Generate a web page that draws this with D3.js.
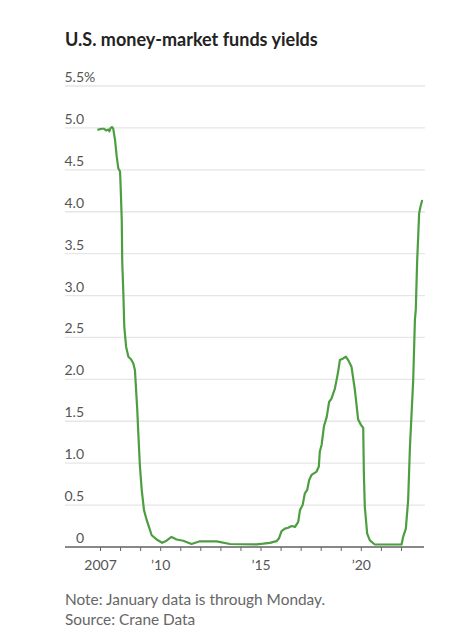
<!DOCTYPE html>
<html>
<head>
<meta charset="utf-8">
<script src="https://cdn.jsdelivr.net/npm/d3@7"></script>
<style>
  html, body { margin: 0; padding: 0; background: #fff; }
  svg { display: block; }
  text { font-family: Lato, "Open Sans", sans-serif; }
</style>
</head>
<body>
<div id="chart"></div>
<script>
// ---- Data ----
const title = "U.S. money-market funds yields";
const noteLines = ["Note: January data is through Monday.", "Source: Crane Data"];

const dates = [
  "2006-12-01","2007-02-01","2007-03-15","2007-04-20","2007-06-01","2007-06-20","2007-07-15","2007-08-10","2007-08-30","2007-10-01",
  "2007-11-01","2007-11-30","2008-01-01","2008-01-12","2008-02-01","2008-02-10","2008-03-01","2008-03-18","2008-04-20","2008-06-01",
  "2008-07-18","2008-08-30","2008-09-28","2008-10-16","2008-11-10","2008-11-28","2008-12-28","2009-01-30","2009-03-12","2009-05-01",
  "2009-07-30","2009-10-28","2010-02-06","2010-04-26","2010-07-26","2010-10-26","2011-02-24","2011-07-26","2011-12-24","2012-10-24",
  "2013-06-24","2014-10-24","2015-02-20","2015-06-20","2015-10-20","2015-12-01","2016-01-20","2016-03-20","2016-05-20","2016-07-20",
  "2016-09-20","2016-11-18","2016-12-20","2017-02-06","2017-03-18","2017-04-30","2017-06-05","2017-07-18","2017-10-18","2017-11-28",
  "2017-12-16","2018-01-18","2018-03-01","2018-04-20","2018-06-03","2018-07-16","2018-09-16","2018-10-28","2018-11-14","2018-12-16",
  "2019-02-14","2019-04-04","2019-05-16","2019-07-16","2019-09-16","2019-11-14","2020-01-01","2020-02-14","2020-02-26","2020-03-14",
  "2020-04-26","2020-06-14","2020-09-12","2022-01-12","2022-02-10","2022-03-31","2022-05-12","2022-06-14","2022-07-14","2022-08-12",
  "2022-09-12","2022-09-28","2022-10-22","2022-11-28","2022-12-22","2023-01-20"
];
const yields = [
  4.98,4.99,4.99,4.97,4.98,4.96,5.00,5.01,4.99,4.86,
  4.66,4.52,4.48,4.30,3.90,3.40,3.03,2.63,2.39,2.27,
  2.24,2.19,2.11,1.91,1.63,1.36,0.96,0.68,0.44,0.32,
  0.14,0.09,0.05,0.075,0.12,0.09,0.075,0.036,0.068,0.068,
  0.036,0.032,0.04,0.05,0.07,0.10,0.19,0.22,0.23,0.25,
  0.24,0.30,0.44,0.50,0.64,0.68,0.80,0.86,0.90,0.96,
  1.14,1.22,1.44,1.55,1.73,1.77,1.89,2.03,2.09,2.23,
  2.25,2.27,2.23,2.15,1.87,1.52,1.46,1.42,0.88,0.48,
  0.16,0.08,0.03,0.03,0.12,0.22,0.56,1.20,1.60,1.99,
  2.71,2.83,3.39,3.98,4.06,4.13
];

const yTicks = [0, 0.5, 1.0, 1.5, 2.0, 2.5, 3.0, 3.5, 4.0, 4.5, 5.0, 5.5];
const yTickLabels = ["0","0.5","1.0","1.5","2.0","2.5","3.0","3.5","4.0","4.5","5.0","5.5"];
const xTickYears = [2007,2008,2009,2010,2011,2012,2013,2014,2015,2016,2017,2018,2019,2020,2021,2022];
const xLabelYears = [2007, 2010, 2015, 2020];
const xLabels = ["2007", "\u201910", "\u201915", "\u201920"];

// ---- Layout ----
const W = 462, H = 643;
const plotLeft = 65, plotRight = 425;
const parse = d3.timeParse("%Y-%m-%d");
const data = dates.map((d, i) => ({ date: parse(d), value: yields[i] }));

const svg = d3.select("#chart").append("svg").attr("width", W).attr("height", H);

const x = d3.scaleTime()
  .domain([new Date(2007, 0, 1), new Date(2023, 0, 1)])
  .range([100, 421]);
const y = d3.scaleLinear().domain([0, 5.5]).range([547, 86]);

// title
svg.append("text")
  .attr("x", plotLeft).attr("y", 46)
  .attr("font-size", 18).attr("font-weight", 700).attr("fill", "#222")
  .text(title);

// gridlines
svg.append("g").selectAll("line")
  .data(yTicks.filter(d => d > 0))
  .join("line")
  .attr("x1", plotLeft).attr("x2", plotRight)
  .attr("y1", d => y(d)).attr("y2", d => y(d))
  .attr("stroke", "#e6e6e6").attr("stroke-width", 1.3);

// y labels
const yl = svg.append("g");
yl.selectAll("text").data(yTicks).join("text")
  .attr("x", 84).attr("y", d => y(d) - 4)
  .attr("text-anchor", "end")
  .attr("font-size", 14).attr("fill", "#555")
  .text((d, i) => yTickLabels[i]);
yl.append("text")
  .attr("x", 84).attr("y", y(5.5) - 4)
  .attr("font-size", 14).attr("fill", "#555")
  .text("%");

// x axis baseline
svg.append("line")
  .attr("x1", plotLeft).attr("x2", plotRight - 1)
  .attr("y1", y(0)).attr("y2", y(0))
  .attr("stroke", "#888").attr("stroke-width", 2);

// x ticks
const xAxis = d3.axisBottom(x)
  .tickValues(xTickYears.map(yr => new Date(yr, 0, 1)))
  .tickSize(4)
  .tickFormat(d => {
    const i = xLabelYears.indexOf(d.getFullYear());
    return i >= 0 ? xLabels[i] : "";
  });
const gx = svg.append("g").attr("transform", `translate(0,${y(0)})`).call(xAxis);
gx.select(".domain").remove();
gx.selectAll(".tick line").attr("stroke", "#666").attr("stroke-width", 1);
gx.selectAll(".tick text")
  .attr("y", 23).attr("dy", 0)
  .attr("font-size", 14).attr("fill", "#555")
  .style("font-family", "Lato, sans-serif");

// line
const line = d3.line().x(d => x(d.date)).y(d => y(d.value));
svg.append("path").datum(data)
  .attr("d", line)
  .attr("fill", "none")
  .attr("stroke", "#4c9e40")
  .attr("stroke-width", 2.2)
  .attr("stroke-linejoin", "round")
  .attr("stroke-linecap", "round");

// notes
svg.append("g").selectAll("text").data(noteLines).join("text")
  .attr("x", plotLeft).attr("y", (d, i) => 605 + i * 20)
  .attr("font-size", 15.4).attr("fill", "#666")
  .text(d => d);
</script>
</body>
</html>
